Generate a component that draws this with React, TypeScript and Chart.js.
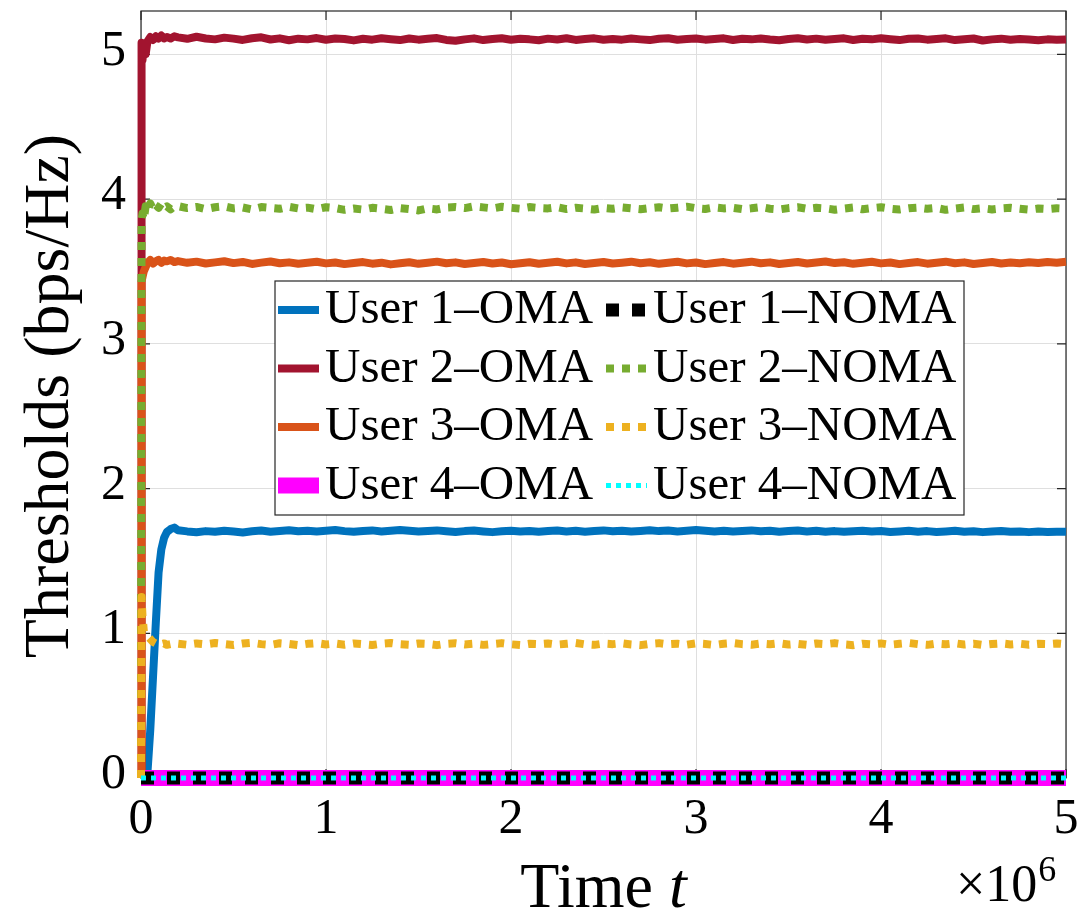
import { useEffect, useRef } from "react";
import { Chart, registerables } from "chart.js";

Chart.register(...registerables);

// Sample times, in units of 10^6
const TIME = [
  0, 0.003, 0.008, 0.015, 0.025, 0.035, 0.05, 0.065, 0.08, 0.095, 0.11, 0.125, 0.14, 0.16, 0.18,
  0.2, 0.25, 0.3, 0.35, 0.4, 0.45, 0.5, 0.55, 0.6, 0.65,
  0.7, 0.75, 0.8, 0.85, 0.9, 0.95, 1.0, 1.05, 1.1, 1.15,
  1.2, 1.25, 1.3, 1.35, 1.4, 1.45, 1.5, 1.55, 1.6, 1.65,
  1.7, 1.75, 1.8, 1.85, 1.9, 1.95, 2.0, 2.05, 2.1, 2.15,
  2.2, 2.25, 2.3, 2.35, 2.4, 2.45, 2.5, 2.55, 2.6, 2.65,
  2.7, 2.75, 2.8, 2.85, 2.9, 2.95, 3.0, 3.05, 3.1, 3.15,
  3.2, 3.25, 3.3, 3.35, 3.4, 3.45, 3.5, 3.55, 3.6, 3.65,
  3.7, 3.75, 3.8, 3.85, 3.9, 3.95, 4.0, 4.05, 4.1, 4.15,
  4.2, 4.25, 4.3, 4.35, 4.4, 4.45, 4.5, 4.55, 4.6, 4.65,
  4.7, 4.75, 4.8, 4.85, 4.9, 4.95, 5.0,
];

const USER1_OMA = [
  0, 0, 0, 0, 0, 0.04, 0.33, 0.7, 1.07, 1.42, 1.58, 1.66, 1.7, 1.72, 1.73,
  1.712, 1.704, 1.698, 1.706, 1.701, 1.709, 1.703, 1.697, 1.705, 1.71,
  1.702, 1.707, 1.712, 1.705, 1.709, 1.703, 1.708, 1.713, 1.706, 1.701,
  1.707, 1.711, 1.704, 1.709, 1.714, 1.708, 1.703, 1.707, 1.711, 1.705,
  1.7, 1.706, 1.71, 1.704, 1.699, 1.705, 1.709, 1.703, 1.707, 1.702,
  1.706, 1.71, 1.704, 1.708, 1.702, 1.707, 1.711, 1.705, 1.709, 1.703,
  1.707, 1.712, 1.706, 1.71, 1.704, 1.708, 1.713, 1.709, 1.704, 1.708,
  1.703, 1.707, 1.711, 1.705, 1.709, 1.702, 1.706, 1.71, 1.704, 1.708,
  1.702, 1.706, 1.701, 1.705, 1.709, 1.703, 1.707, 1.7, 1.704, 1.708,
  1.702, 1.706, 1.7, 1.704, 1.708, 1.701, 1.705, 1.699, 1.703, 1.707,
  1.701, 1.704, 1.699, 1.703, 1.7, 1.702, 1.701,
];

const USER2_OMA = [
  0, 5.08, 4.96, 5.06, 5.0, 5.09, 5.12, 5.1, 5.125, 5.11, 5.13, 5.11, 5.12, 5.11, 5.125,
  5.118, 5.108, 5.122, 5.11, 5.104, 5.116, 5.109, 5.1, 5.112, 5.118,
  5.103, 5.111, 5.098, 5.109, 5.104, 5.113, 5.101, 5.11, 5.106, 5.097,
  5.108, 5.102, 5.112, 5.105, 5.099, 5.11, 5.102, 5.108, 5.113, 5.1,
  5.094, 5.104, 5.111, 5.099, 5.107, 5.112, 5.101, 5.108, 5.104, 5.098,
  5.109, 5.103, 5.112, 5.1, 5.106, 5.111, 5.101, 5.107, 5.102, 5.11,
  5.104, 5.099, 5.108, 5.112, 5.101, 5.106, 5.11, 5.102, 5.107, 5.111,
  5.1, 5.108, 5.104, 5.11, 5.103, 5.098, 5.107, 5.112, 5.103, 5.109,
  5.101, 5.106, 5.111, 5.1, 5.108, 5.104, 5.112, 5.105, 5.099, 5.108,
  5.11, 5.102, 5.107, 5.111, 5.099, 5.105, 5.11, 5.096, 5.104, 5.109,
  5.101, 5.107, 5.103, 5.098, 5.104, 5.101, 5.103,
];

const USER3_OMA = [
  0, 3.43, 3.46, 3.5, 3.53, 3.56, 3.58, 3.555, 3.57, 3.58, 3.56, 3.575, 3.57, 3.58, 3.565,
  3.572, 3.56, 3.568, 3.555, 3.563, 3.571, 3.558, 3.566, 3.552, 3.561,
  3.569, 3.557, 3.563, 3.553, 3.56, 3.567, 3.556, 3.562, 3.551, 3.558,
  3.565, 3.554, 3.561, 3.549, 3.557, 3.564, 3.553, 3.56, 3.568, 3.557,
  3.563, 3.552, 3.559, 3.566, 3.555, 3.562, 3.55, 3.557, 3.564, 3.554,
  3.561, 3.567, 3.556, 3.563, 3.552, 3.559, 3.566, 3.555, 3.561, 3.568,
  3.557, 3.564, 3.553, 3.56, 3.567, 3.556, 3.562, 3.551, 3.558, 3.565,
  3.554, 3.561, 3.568, 3.557, 3.563, 3.552, 3.559, 3.566, 3.555, 3.562,
  3.569, 3.558, 3.564, 3.553, 3.56, 3.567, 3.556, 3.562, 3.551, 3.558,
  3.565, 3.554, 3.561, 3.568, 3.557, 3.563, 3.552, 3.559, 3.566, 3.555,
  3.562, 3.557, 3.564, 3.559, 3.566, 3.561, 3.567,
];

const USER2_NOMA = [
  0, 3.85, 3.9, 3.86, 3.95, 3.92, 3.97, 3.93, 3.96, 3.94, 3.97, 3.94, 3.95, 3.93, 3.95,
  3.952, 3.938, 3.946, 3.931, 3.944, 3.95, 3.936, 3.942, 3.929, 3.945,
  3.939, 3.933, 3.947, 3.936, 3.941, 3.93, 3.944, 3.938, 3.926, 3.935,
  3.928, 3.94, 3.933, 3.925, 3.938, 3.931, 3.922, 3.936, 3.929, 3.942,
  3.945, 3.938, 3.95, 3.943, 3.936, 3.947, 3.94, 3.934, 3.945, 3.939,
  3.936, 3.944, 3.931, 3.94, 3.935, 3.928, 3.939, 3.933, 3.942, 3.936,
  3.93, 3.938, 3.944, 3.935, 3.941, 3.948, 3.937, 3.932, 3.943, 3.936,
  3.94, 3.931, 3.937, 3.945, 3.934, 3.929, 3.938, 3.944, 3.933, 3.94,
  3.936, 3.927, 3.935, 3.942, 3.93, 3.938, 3.944, 3.934, 3.928, 3.937,
  3.941, 3.933, 3.939, 3.926, 3.935, 3.942, 3.931, 3.937, 3.929, 3.936,
  3.94, 3.933, 3.927, 3.935, 3.931, 3.937, 3.934,
];

const USER3_NOMA = [
  0, 1.25, 1.12, 1.02, 0.99, 0.98, 0.96, 0.94, 0.93, 0.92, 0.925, 0.93, 0.92, 0.925, 0.93,
  0.928, 0.921, 0.93, 0.924, 0.933, 0.926, 0.919, 0.929, 0.934, 0.925,
  0.92, 0.931, 0.926, 0.918, 0.927, 0.932, 0.923, 0.929, 0.921, 0.93,
  0.925, 0.919, 0.928, 0.933, 0.924, 0.92, 0.929, 0.926, 0.918, 0.927,
  0.931, 0.923, 0.928, 0.92, 0.926, 0.932, 0.924, 0.919, 0.928, 0.925,
  0.93, 0.922, 0.927, 0.933, 0.924, 0.92, 0.929, 0.925, 0.931, 0.923,
  0.918, 0.927, 0.932, 0.924, 0.928, 0.921, 0.93, 0.926, 0.919, 0.928,
  0.933, 0.925, 0.921, 0.929, 0.924, 0.931, 0.922, 0.927, 0.92, 0.929,
  0.925, 0.932, 0.923, 0.918, 0.928, 0.924, 0.93, 0.921, 0.927, 0.933,
  0.925, 0.92, 0.929, 0.924, 0.931, 0.922, 0.928, 0.919, 0.926, 0.93,
  0.923, 0.928, 0.921, 0.927, 0.925, 0.93, 0.924,
];

// Users whose threshold stays at zero over the whole run
const FLAT_TIME = [0, 5];
const USER4_OMA = [0, 0];
const USER1_NOMA = [0, 0];
const USER4_NOMA = [0, 0];

const X_TICKS = [0, 1, 2, 3, 4, 5];
const Y_TICKS = [0, 1, 2, 3, 4, 5];
const X_MAX = 5;
const Y_MAX = 5.3;

const SERIF = "'Liberation Serif', 'DejaVu Serif', serif";
const AXIS_COLOR = "#262626";

type SeriesStyle = {
  label: string;
  color: string;
  width: number;
  dash: number[];
};

const toPoints = (xs: number[], ys: number[]) => xs.map((x, i) => ({ x, y: ys[i] }));

// Plot order: OMA users first, then NOMA users on top
const SERIES: { style: SeriesStyle; xs: number[]; ys: number[] }[] = [
  { style: { label: "User 1\u2013OMA", color: "#0072BD", width: 8, dash: [] }, xs: TIME, ys: USER1_OMA },
  { style: { label: "User 2\u2013OMA", color: "#A2142F", width: 8, dash: [] }, xs: TIME, ys: USER2_OMA },
  { style: { label: "User 3\u2013OMA", color: "#D95319", width: 8, dash: [] }, xs: TIME, ys: USER3_OMA },
  { style: { label: "User 4\u2013OMA", color: "#FF00FF", width: 16, dash: [] }, xs: FLAT_TIME, ys: USER4_OMA },
  { style: { label: "User 1\u2013NOMA", color: "#000000", width: 13, dash: [13, 13] }, xs: FLAT_TIME, ys: USER1_NOMA },
  { style: { label: "User 2\u2013NOMA", color: "#77AC30", width: 8, dash: [8, 8] }, xs: TIME, ys: USER2_NOMA },
  { style: { label: "User 3\u2013NOMA", color: "#EDB120", width: 8, dash: [8, 8] }, xs: TIME, ys: USER3_NOMA },
  { style: { label: "User 4\u2013NOMA", color: "#00FFFF", width: 5, dash: [5, 5] }, xs: FLAT_TIME, ys: USER4_NOMA },
];

// Box around the axes with inward tick marks on all four sides
const framePlugin = {
  id: "frame",
  beforeDatasetsDraw(chart: any) {
    const { ctx, chartArea: a, scales } = chart;
    ctx.save();
    ctx.strokeStyle = AXIS_COLOR;
    ctx.lineWidth = 1.2;
    ctx.strokeRect(a.left, a.top, a.right - a.left, a.bottom - a.top);
    ctx.beginPath();
    const len = 9;
    for (const v of X_TICKS) {
      const px = scales.x.getPixelForValue(v);
      ctx.moveTo(px, a.bottom);
      ctx.lineTo(px, a.bottom - len);
      ctx.moveTo(px, a.top);
      ctx.lineTo(px, a.top + len);
    }
    for (const v of Y_TICKS) {
      const py = scales.y.getPixelForValue(v);
      ctx.moveTo(a.left, py);
      ctx.lineTo(a.left + len, py);
      ctx.moveTo(a.right, py);
      ctx.lineTo(a.right - len, py);
    }
    ctx.stroke();
    ctx.restore();
  },
};

// Axis titles, exponent note and the two-column legend
const annotatePlugin = {
  id: "annotate",
  afterDraw(chart: any) {
    const { ctx, chartArea: a } = chart;
    ctx.save();
    ctx.fillStyle = "#000";

    // y-axis title
    ctx.save();
    ctx.translate(68, 396);
    ctx.rotate(-Math.PI / 2);
    ctx.font = `64px ${SERIF}`;
    ctx.textAlign = "center";
    ctx.textBaseline = "alphabetic";
    ctx.fillText("Thresholds (bps/Hz)", 0, 0);
    ctx.restore();

    // x-axis title: "Time t" with an italic t
    ctx.textBaseline = "alphabetic";
    ctx.textAlign = "left";
    const upright = `64px ${SERIF}`;
    const italic = `italic 64px ${SERIF}`;
    ctx.font = upright;
    const w1 = ctx.measureText("Time ").width;
    ctx.font = italic;
    const w2 = ctx.measureText("t").width;
    const cx = (a.left + a.right) / 2;
    const startX = cx - (w1 + w2) / 2;
    ctx.font = upright;
    ctx.fillText("Time ", startX, 907);
    ctx.font = italic;
    ctx.fillText("t", startX + w1, 907);

    // exponent of the time axis
    ctx.font = `52px ${SERIF}`;
    const base = "\u00d710";
    ctx.fillText(base, 956, 901);
    const bw = ctx.measureText(base).width;
    ctx.font = `36px ${SERIF}`;
    ctx.fillText("6", 956 + bw + 1, 881);

    // legend
    const box = { left: 275, top: 281, right: 964, bottom: 515 };
    ctx.fillStyle = "#ffffff";
    ctx.fillRect(box.left, box.top, box.right - box.left, box.bottom - box.top);
    ctx.strokeStyle = AXIS_COLOR;
    ctx.lineWidth = 1.2;
    ctx.strokeRect(box.left, box.top, box.right - box.left, box.bottom - box.top);

    const colX = [278, 606];
    const rowBase = [323, 381.5, 440, 498.5];
    const sampleLen = 41;
    ctx.font = `49px ${SERIF}`;
    SERIES.forEach((s, i) => {
      const col = Math.floor(i / 4);
      const row = i % 4;
      const x0 = colX[col];
      const yb = rowBase[row];
      const yl = yb - 13;
      ctx.save();
      ctx.strokeStyle = s.style.color;
      ctx.lineWidth = s.style.width;
      ctx.lineCap = "butt";
      ctx.setLineDash(s.style.dash);
      ctx.beginPath();
      ctx.moveTo(x0, yl);
      ctx.lineTo(x0 + sampleLen, yl);
      ctx.stroke();
      ctx.restore();
      ctx.fillStyle = "#000";
      ctx.textAlign = "left";
      ctx.textBaseline = "alphabetic";
      ctx.fillText(s.style.label, x0 + sampleLen + 6, yb);
    });

    ctx.restore();
  },
};

export default function App() {
  const canvasRef = useRef<HTMLCanvasElement | null>(null);

  useEffect(() => {
    const canvas = canvasRef.current;
    if (!canvas) return;

    const datasets = SERIES.map((s, i) => ({
      label: s.style.label,
      data: toPoints(s.xs, s.ys),
      borderColor: s.style.color,
      backgroundColor: s.style.color,
      borderWidth: s.style.width,
      borderDash: s.style.dash,
      borderCapStyle: "butt" as const,
      borderJoinStyle: "round" as const,
      pointRadius: 0,
      pointHoverRadius: 0,
      tension: 0,
      fill: false,
      clip: 12,
      // later series are painted over earlier ones
      order: SERIES.length - i,
    }));

    const chart = new Chart(canvas, {
      type: "line",
      data: { datasets },
      options: {
        animation: false,
        responsive: false,
        maintainAspectRatio: false,
        events: [],
        layout: { padding: { top: 11, right: 22, left: 0, bottom: 0 } },
        plugins: {
          legend: { display: false },
          tooltip: { enabled: false },
          title: { display: false },
        },
        scales: {
          x: {
            type: "linear",
            min: 0,
            max: X_MAX,
            afterFit: (s: any) => {
              s.height = 144;
              s.paddingLeft = 0;
              s.paddingRight = 0;
            },
            afterBuildTicks: (s: any) => {
              s.ticks = X_TICKS.map((v) => ({ value: v }));
            },
            ticks: {
              font: { family: SERIF, size: 50 },
              color: "#000",
              padding: 12,
              maxRotation: 0,
              callback: (v: any) => String(v),
            },
            grid: { color: "#dfdfdf", lineWidth: 1, drawTicks: false },
            border: { display: false },
          },
          y: {
            type: "linear",
            min: 0,
            max: Y_MAX,
            afterFit: (s: any) => {
              s.width = 141;
              s.paddingTop = 0;
              s.paddingBottom = 0;
            },
            afterBuildTicks: (s: any) => {
              s.ticks = Y_TICKS.map((v) => ({ value: v }));
            },
            ticks: {
              font: { family: SERIF, size: 50 },
              color: "#000",
              padding: 15,
              labelOffset: -3,
              callback: (v: any) => String(v),
            },
            grid: { color: "#dfdfdf", lineWidth: 1, drawTicks: false },
            border: { display: false },
          },
        },
      },
      plugins: [framePlugin, annotatePlugin],
    });

    return () => {
      chart.destroy();
    };
  }, []);

  return (
    <div style={{ position: "absolute", left: 0, top: 0, width: 1088, height: 922, background: "#fff" }}>
      <canvas ref={canvasRef} width={1088} height={922} style={{ display: "block" }} />
    </div>
  );
}
